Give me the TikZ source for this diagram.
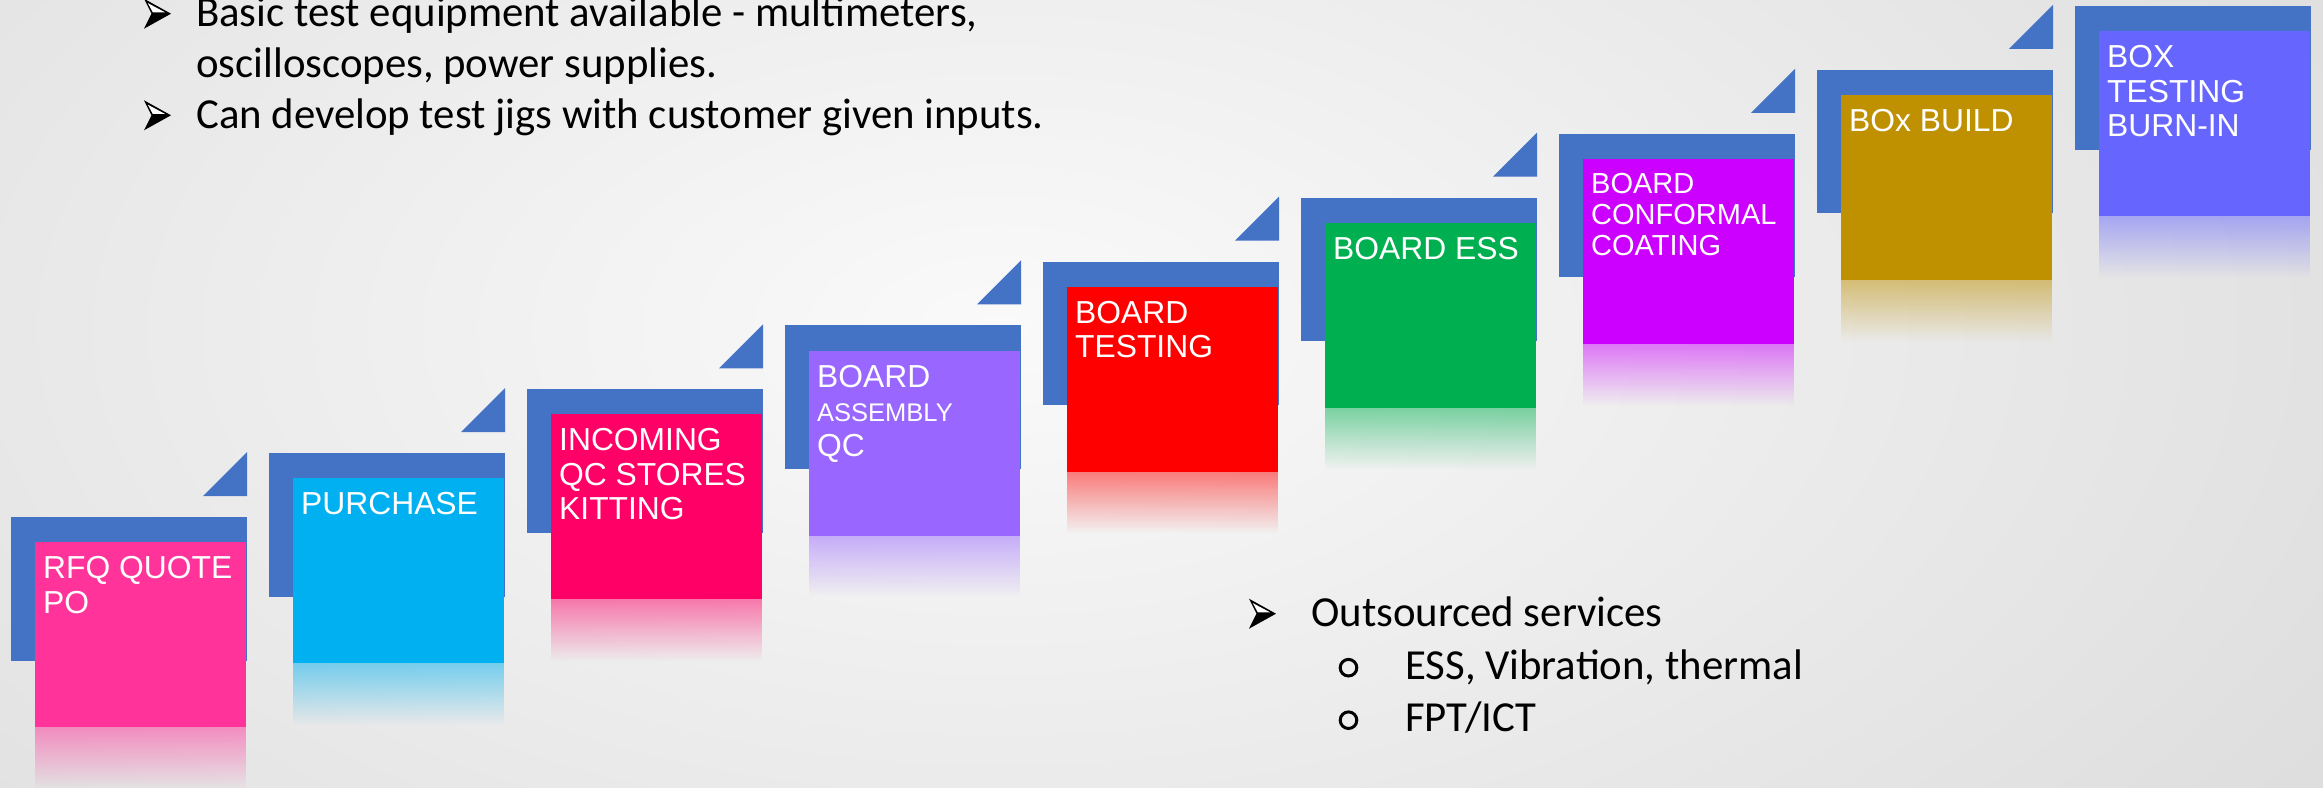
\documentclass[tikz,border=0pt]{standalone}
\usepackage{fontspec}
\setmainfont{Liberation Sans}
\newfontfamily\calibri{Carlito}
\usetikzlibrary{fadings}

\definecolor{stepblue}{HTML}{4472C4}
\definecolor{bgin}{HTML}{FAFAFA}
\definecolor{bgout}{HTML}{DCDCDC}
\definecolor{cRFQ}{HTML}{FF3399}
\definecolor{cPUR}{HTML}{00B0F0}
\definecolor{cINC}{HTML}{FF0066}
\definecolor{cASM}{HTML}{9966FF}
\definecolor{cTST}{HTML}{FF0000}
\definecolor{cESS}{HTML}{00B050}
\definecolor{cCOA}{HTML}{CC00FF}
\definecolor{cBLD}{HTML}{BF9000}
\definecolor{cBRN}{HTML}{6666FF}

% mirrored glow under each step
\tikzfading[name=reflfade, top color=transparent!50, bottom color=transparent!100]

\tikzset{
  stepbox/.style={rectangle, inner sep=0pt, minimum width=211bp,
    minimum height=185bp, anchor=north west},
  steplabel/.style={anchor=north west, inner sep=0pt, align=left, text=white,
    font=\fontsize{31.8bp}{34.5bp}\selectfont},
  smalllabel/.style={font=\fontsize{29bp}{31.3bp}\selectfont},
  bullettext/.style={anchor=base west, inner sep=0pt, text=black,
    font=\calibri\fontsize{42.8bp}{51bp}\selectfont},
  ringbullet/.style={draw=black, line width=3bp},
}

% #1 index, #2 colour, #3 label, #4 first-baseline offset, #5 label style
\newcommand\drawstep[5]{%
  \pgfmathsetmacro\sL{35+258*#1}%
  \pgfmathsetmacro\sT{542-63.875*#1}%
  \pgfmathsetmacro\sR{\sL+211}%
  \pgfmathsetmacro\sB{\sT+185}%
  \fill[stepblue] (\sL-24.5,\sT-25) rectangle (\sR+0.8,\sT+118.5);
  \fill[stepblue] (\sR-43,\sT-46) -- (\sR+1,\sT-90) -- (\sR+1,\sT-46) -- cycle;
  \node[stepbox, fill=#2] (box#1) at (\sL,\sT) {};
  \fill[#2, path fading=reflfade] (\sL,\sB) rectangle (\sR,\sB+62);
  \node[steplabel, #5] (label#1) at (\sL+8,\sT+#4-30) {\rule{0pt}{30bp}#3};
}

% #1 left x, #2 baseline
\newcommand\arrowbullet[2]{%
  \fill[black] (#1,#2-28) -- (#1+27,#2-13) -- (#1,#2+2) -- (#1+7.5,#2-13) -- cycle;
  \fill[white] (#1+3.8,#2-23.6) -- (#1+21,#2-14.4) -- (#1+8.8,#2-14.4) -- cycle;
}

\begin{document}
\begin{tikzpicture}[x=1bp,y=-1bp]
  \useasboundingbox (0,0) rectangle (2323,787);

  % backdrop
  \fill[bgout] (0,0) rectangle (2323,787);
  \begin{scope}
    \clip (0,0) rectangle (2323,787);
    \shade[inner color=bgin, outer color=bgout] (1000,330) ellipse [x radius=1650, y radius=900];
  \end{scope}

  % staircase of process steps
  \drawstep{0}{cRFQ}{RFQ QUOTE\\PO}{36.5}{}
  \drawstep{1}{cPUR}{PURCHASE}{36.5}{}
  \drawstep{2}{cINC}{INCOMING\\QC STORES\\KITTING}{36.5}{}
  \drawstep{3}{cASM}{BOARD\\{\fontsize{25.5bp}{34.5bp}\selectfont ASSEMBLY}\\QC}{36.5}{}
  \drawstep{4}{cTST}{BOARD\\TESTING}{36.5}{}
  \drawstep{5}{cESS}{BOARD ESS}{36.5}{}
  \drawstep{6}{cCOA}{BOARD\\CONFORMAL\\COATING}{34.4}{smalllabel}
  \drawstep{7}{cBLD}{BOx BUILD}{36.5}{}
  \drawstep{8}{cBRN}{BOX\\TESTING\\BURN-IN}{36.5}{}

  % in-house test capability
  \node[bullettext] (equip1) at (196,26.7) {Basic test equipment available - multimeters,};
  \node[bullettext] (equip2) at (196,77.5) {oscilloscopes, power supplies.};
  \node[bullettext] (jigs) at (196,128.3) {Can develop test jigs with customer given inputs.};
  \arrowbullet{144}{26.7}
  \arrowbullet{144}{128.3}

  % outsourced services
  \node[bullettext] (outs) at (1311,626.7) {Outsourced services};
  \node[bullettext] (ess) at (1405,679.2) {ESS, Vibration, thermal};
  \node[bullettext] (fpt) at (1405,731.7) {FPT/ICT};
  \arrowbullet{1249}{626.7}
  \draw[ringbullet] (1348.5,667.7) circle (8.3bp);
  \draw[ringbullet] (1348.5,720.2) circle (8.3bp);
\end{tikzpicture}
\end{document}
